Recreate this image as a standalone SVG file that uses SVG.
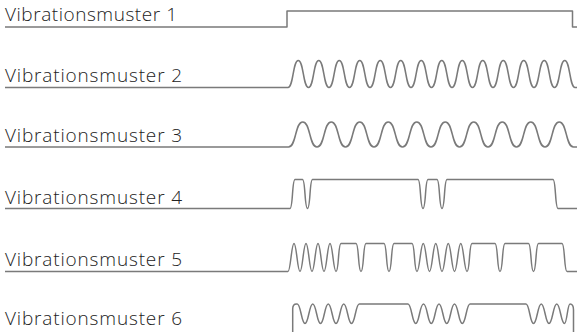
<svg xmlns="http://www.w3.org/2000/svg" width="577" height="332" viewBox="0 0 577 332">
<style>
.lbl{font-family:"Open Sans","DejaVu Sans",sans-serif;font-weight:300;font-size:19px;fill:#222}
.w{fill:none;stroke:#7a7a7a;stroke-width:1.5;stroke-linejoin:round}
</style>
<rect width="577" height="332" fill="#fff"/>
<g id="row1"><text class="lbl" x="5" y="21" textLength="172">Vibrationsmuster 1</text></g>
<g id="row2"><text class="lbl" x="5" y="82" textLength="177">Vibrationsmuster 2</text></g>
<g id="row3"><text class="lbl" x="5" y="142" textLength="177">Vibrationsmuster 3</text></g>
<g id="row4"><text class="lbl" x="5" y="203.5" textLength="177">Vibrationsmuster 4</text></g>
<g id="row5"><text class="lbl" x="5" y="265.5" textLength="177">Vibrationsmuster 5</text></g>
<g id="row6"><text class="lbl" x="5" y="325" textLength="177">Vibrationsmuster 6</text></g>
<g id="connectors">
<path class="w" d="M5,27 H287 V11 H572.5 V27 H577"/>
<path class="w" d="M5,87.5 H288 C293.5,87.5 292.75,60.5 298.25,60.5 S303,87.5 308.5,87.5 S313.25,60.5 318.75,60.5 S323.5,87.5 329,87.5 S333.75,60.5 339.25,60.5 S344,87.5 349.5,87.5 S354.25,60.5 359.75,60.5 S364.5,87.5 370,87.5 S374.75,60.5 380.25,60.5 S385,87.5 390.5,87.5 S395.25,60.5 400.75,60.5 S405.5,87.5 411,87.5 S415.75,60.5 421.25,60.5 S426,87.5 431.5,87.5 S436.25,60.5 441.75,60.5 S446.5,87.5 452,87.5 S456.75,60.5 462.25,60.5 S467,87.5 472.5,87.5 S477.25,60.5 482.75,60.5 S487.5,87.5 493,87.5 S497.75,60.5 503.25,60.5 S508,87.5 513.5,87.5 S518.25,60.5 523.75,60.5 S528.5,87.5 534,87.5 S538.75,60.5 544.25,60.5 S549,87.5 554.5,87.5 S559.25,60.5 564.75,60.5 S569.5,87.5 575,87.5 H577"/>
<path class="w" d="M5,147 H288.5 C296.5,147 294.75,122 302.75,122 S309,147 317,147 S323.25,122 331.25,122 S337.5,147 345.5,147 S351.75,122 359.75,122 S366,147 374,147 S380.25,122 388.25,122 S394.5,147 402.5,147 S408.75,122 416.75,122 S423,147 431,147 S437.25,122 445.25,122 S451.5,147 459.5,147 S465.75,122 473.75,122 S480,147 488,147 S494.25,122 502.25,122 S508.5,147 516.5,147 S522.75,122 530.75,122 S537,147 545,147 S551.25,122 559.25,122 S565.5,147 573.5,147 H577"/>
<path class="w" d="M5,208.5 H290 C293,208.5 292,179.5 295,179.5 H302.5 C305.5,179.5 304.5,208.5 307.5,208.5 C310.5,208.5 309.5,179.5 312.5,179.5 H418 C421,179.5 420,208.5 423,208.5 C426,208.5 425,179.5 428,179.5 H437 C440,179.5 439,208.5 442,208.5 C445,208.5 444,179.5 447,179.5 H553 C556,179.5 555,208.5 558,208.5 H577"/>
<path class="w" d="M5,271.5 H288 C290.6,271.5 291.4,243.5 294,243.5 S297.4,271.5 300,271.5 S303.4,243.5 306,243.5 S309.4,271.5 312,271.5 S315.4,243.5 318,243.5 S321.4,271.5 324,271.5 S327.4,243.5 330,243.5 S333.4,271.5 336,271.5 C339,271.5 338,243.5 341,243.5 H356 C359,243.5 358,271.5 361,271.5 C364,271.5 363,243.5 366,243.5 H384 C387,243.5 386,271.5 389,271.5 C392,271.5 391,243.5 394,243.5 H412 C415,243.5 414,271.5 417,271.5 C419.7,271.5 420.55,243.5 423.25,243.5 S426.8,271.5 429.5,271.5 S433.05,243.5 435.75,243.5 S439.3,271.5 442,271.5 S445.55,243.5 448.25,243.5 S451.8,271.5 454.5,271.5 S458.05,243.5 460.75,243.5 S464.3,271.5 467,271.5 C470,271.5 469,243.5 472,243.5 H495 C498,243.5 497,271.5 500,271.5 C503,271.5 502,243.5 505,243.5 H528.5 C531.5,243.5 530.5,271.5 533.5,271.5 C536.5,271.5 535.5,243.5 538.5,243.5 H562 C565,243.5 564,271.5 567,271.5 H577"/>
<path class="w" d="M292.7,336 V309 C292.7,306 293.5,304 296.5,304 H297.25 C300.75,304 301.5,323.5 305,323.5 S309.25,304 312.75,304 S317,323.5 320.5,323.5 S324.75,304 328.25,304 S332.5,323.5 336,323.5 S340.25,304 343.75,304 S348,323.5 351.5,323.5 S355.75,304 359.25,304 H408 C411.5,304 412.25,323.5 415.75,323.5 S419.75,304 423.5,304 S427.75,323.5 431.25,323.5 S435.5,304 439,304 S443.25,323.5 446.75,323.5 S451,304 454.5,304 S458.75,323.5 462.25,323.5 S466.5,304 470,304 H526 C529.5,304 530,323.5 533.5,323.5 S537.75,304 541.25,304 S545.5,323.5 549,323.5 S553.25,304 556.75,304 S561,323.5 564.5,323.5 C567,323.5 567.5,304 570,304 C572,304 573.5,306 573.5,310 V336"/>
</g>
</svg>
